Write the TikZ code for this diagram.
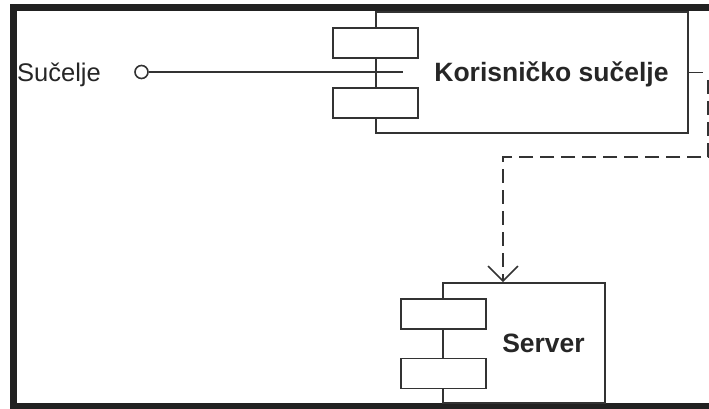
\documentclass[tikz,border=0pt]{standalone}
\usepackage{fontspec}
\setmainfont{Liberation Sans}
\usetikzlibrary{arrows.meta, positioning}

\begin{document}
\begin{tikzpicture}[x=1pt,y=-1pt]
        \tikzset{Component/.style={rectangle, draw=black!80, line width=1.6pt, fill=white, inner sep=0pt}}
        \tikzset{Port/.style={rectangle, draw=black!80, line width=1.6pt, fill=white, minimum width=85pt, minimum height=30pt, inner sep=0pt}}
        \tikzset{Label/.style={inner sep=0pt, text=black!85, font=\fontsize{25.5}{30}\selectfont}}
        \tikzset{Dependency/.style={draw=black!80, line width=1.6pt, dash pattern=on 14pt off 7pt, -{Straight Barb[length=15pt,width=30pt]}}}

        \useasboundingbox (0,0) rectangle (709,409);
        \fill[white] (0,0) rectangle (709,409);
        \draw[line width=7pt, black!87] (740,8) -- (13,8) -- (13,406) -- (740,406);

        % components
        \node[Component, minimum width=312pt, minimum height=121pt](Kor) at (532,72.5) {};
        \node[Port](Kor1) at (375.5,43) {};
        \node[Port](Kor2) at (375.5,103) {};
        \node[Label, font=\bfseries\fontsize{26.5}{30}\selectfont, anchor=base](KorText) at (551.5,82) {Korisničko sučelje};

        \node[Component, minimum width=162pt, minimum height=120pt](Srv) at (524,343) {};
        \node[Port](Srv1) at (443.5,314) {};
        \node[Port](Srv2) at (443.5,373.5) {};
        \node[Label, font=\bfseries\fontsize{26.5}{30}\selectfont, anchor=base](SrvText) at (543.5,352) {Server};

        % interface
        \node[circle, draw=black!80, line width=1.6pt, fill=white, minimum size=13pt, inner sep=0pt](Ifc) at (141.5,72) {};
        \node[Label, anchor=base west](IfcText) at (17,81.5) {Sučelje};
        \coordinate (IfcEnd) at (403,72);
        \coordinate (KorOut) at (703,72.5);
        \draw[draw=black!80, line width=1.6pt]
            (Ifc) -- (IfcEnd)
            (Kor.east) -- (KorOut)
        ;

        % dependency
        \coordinate (DepStart) at (708,80);
        \coordinate (DepBend) at (708,157);
        \coordinate (DepTurn) at (503,157);
        \draw[Dependency] (DepStart) -- (DepBend) -- (DepTurn) -- (Srv.north -| DepTurn);
\end{tikzpicture}
\end{document}
